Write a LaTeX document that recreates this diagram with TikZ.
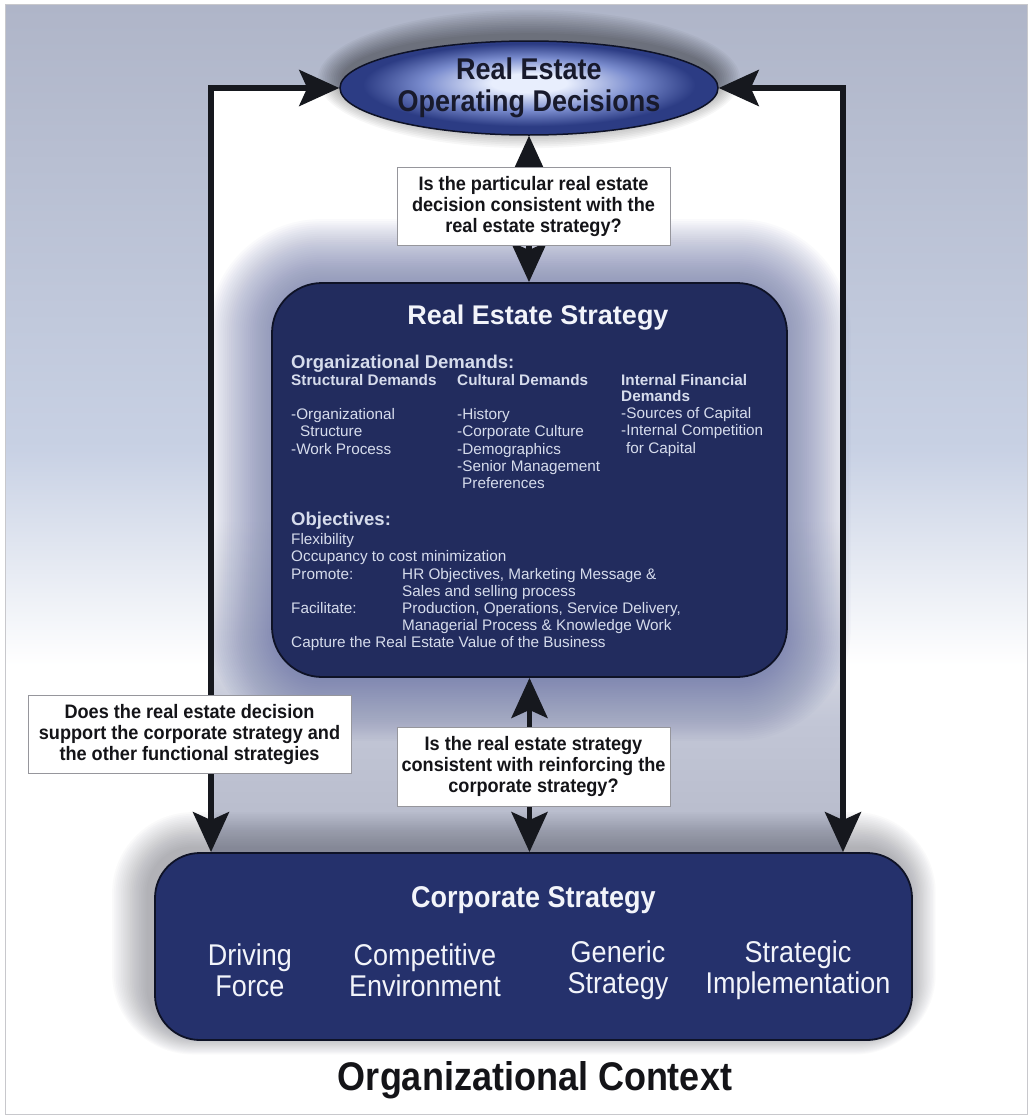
\documentclass[tikz,border=0pt]{standalone}
\usepackage{fontspec}
\setmainfont{Liberation Sans}
\newfontfamily\condfont{Liberation Sans}[FakeStretch=0.9]
\newfontfamily\qfont{Liberation Sans}[FakeStretch=0.93]
\usetikzlibrary{arrows.meta,calc,shapes.geometric,backgrounds}

\definecolor{bgtop}{RGB}{175,181,200}
\definecolor{bgmid}{RGB}{200,209,228}
\definecolor{intlow}{RGB}{194,198,214}
\definecolor{intbot}{RGB}{182,186,202}
\definecolor{linecol}{RGB}{22,24,30}
\definecolor{navy}{RGB}{34,44,94}
\definecolor{corpnavy}{RGB}{37,49,108}
\definecolor{boxedge}{RGB}{14,18,38}
\definecolor{odedark}{RGB}{44,60,132}
\definecolor{odemid}{RGB}{122,140,206}
\definecolor{odelight}{RGB}{232,238,253}
\definecolor{odetext}{RGB}{24,26,44}
\definecolor{bodytxt}{RGB}{214,220,236}
\definecolor{titletxt}{RGB}{242,244,250}
\definecolor{qtext}{RGB}{20,20,24}
\definecolor{qborder}{RGB}{150,150,156}
\definecolor{reglow}{RGB}{100,110,162}
\definecolor{corpshadow}{RGB}{70,72,84}
\definecolor{framegrey}{RGB}{200,200,204}

% light spot slightly above the centre of the ellipse
\pgfdeclareradialshading{odeshade}{\pgfpoint{0bp}{3bp}}{color(0bp)=(odelight); color(5bp)=(odelight); color(14bp)=(odemid); color(22bp)=(odedark); color(25bp)=(odedark); color(50bp)=(odedark)}

\tikzset{
  conn/.style={line width=5.5pt, draw=linecol, line join=miter,
    {Stealth[length=40pt,width=36pt,inset=8pt]}-{Stealth[length=40pt,width=36pt,inset=8pt]}},
  odebox/.style={ellipse, draw=boxedge, line width=1.5pt, shading=odeshade,
    minimum width=378pt, minimum height=94pt, inner sep=0pt, align=center,
    text=odetext, font={\condfont\bfseries\fontsize{30}{32}\selectfont}},
  navybox/.style={rectangle, draw=boxedge, line width=1.8pt, inner sep=0pt},
  qbox/.style={rectangle, draw=qborder, line width=0.8pt, fill=white, inner sep=0pt,
    align=center, text=qtext, font={\qfont\bfseries\fontsize{19.5}{21}\selectfont}},
  body/.style={inner sep=0pt, anchor=base west, text=bodytxt,
    font={\fontsize{15.3}{17}\selectfont}},
  bodyb/.style={body, font={\bfseries\fontsize{15.3}{17}\selectfont}},
  bodyh/.style={body, font={\bfseries\fontsize{18.5}{20}\selectfont}},
  corptxt/.style={inner sep=0pt, align=center, text=titletxt,
    font={\condfont\fontsize{30}{31}\selectfont}},
}

\begin{document}
\begin{tikzpicture}[x=1pt,y=-1pt]
\useasboundingbox (0,0) rectangle (1032,1119);

% frame corners
\coordinate (lx) at (211,88);
\coordinate (rx) at (843,88);

% main boxes
\node[odebox] (ode) at (529,88) {Real Estate\\Operating Decisions};
\node[navybox, fill=navy, minimum width=515pt, minimum height=394pt,
      rounded corners=50pt] (res) at (529.5,480) {};
\node[navybox, fill=corpnavy, minimum width=757pt, minimum height=187pt,
      rounded corners=45pt] (corp) at (533.5,946.5) {};

% real estate strategy contents
\node[inner sep=0pt, text=titletxt, font={\bfseries\fontsize{27}{30}\selectfont}]
  (rest) at (538,318) {Real Estate Strategy};
\node[bodyh] (od) at (291,368) {Organizational Demands:};
\node[bodyb] (sdh) at (291,385) {Structural Demands};
\node[bodyb] (cdh) at (457,385) {Cultural Demands};
\node[bodyb] (ifh1) at (621,385) {Internal Financial};
\node[bodyb] (ifh2) at (621,401) {Demands};
\node[body] (s1) at (291,419) {-Organizational};
\node[body] (s2) at (300,436) {Structure};
\node[body] (s3) at (291,454) {-Work Process};
\node[body] (c1) at (457,419) {-History};
\node[body] (c2) at (457,436) {-Corporate Culture};
\node[body] (c3) at (457,454) {-Demographics};
\node[body] (c4) at (457,471) {-Senior Management};
\node[body] (c5) at (462,488) {Preferences};
\node[body] (f1) at (621,418) {-Sources of Capital};
\node[body] (f2) at (621,435) {-Internal Competition};
\node[body] (f3) at (626,453) {for Capital};
\node[bodyh] (obj) at (291,525) {Objectives:};
\node[body] (o1) at (291,544) {Flexibility};
\node[body] (o2) at (291,561) {Occupancy to cost minimization};
\node[body] (o3) at (291,579) {Promote:};
\node[body] (o3b) at (402,579) {HR Objectives, Marketing Message \&};
\node[body] (o4) at (402,596) {Sales and selling process};
\node[body] (o5) at (291,613) {Facilitate:};
\node[body] (o5b) at (402,613) {Production, Operations, Service Delivery,};
\node[body] (o6) at (402,630) {Managerial Process \& Knowledge Work};
\node[body] (o7) at (291,647) {Capture the Real Estate Value of the Business};

% corporate strategy contents
\node[corptxt, font={\condfont\bfseries\fontsize{30}{31}\selectfont}]
  (cst) at (533.5,900) {Corporate Strategy};
\node[corptxt] (k1) at (250,970) {Driving\\Force};
\node[corptxt] (k2) at (425,970) {Competitive\\Environment};
\node[corptxt] (k3) at (618,970) {Generic\\Strategy};
\node[corptxt] (k4) at (798,970) {Strategic\\Implementation};

\node[inner sep=0pt, text=qtext, font={\condfont\bfseries\fontsize{40}{44}\selectfont}]
  (ctx) at (535,1080) {Organizational Context};

% connectors
\draw[conn] (ode.west) -| (corp.north -| lx);
\draw[conn] (ode.east) -| (corp.north -| rx);
\draw[conn] (ode.south) -- (ode.south |- res.north);
\draw[conn] (res.south) -- (res.south |- corp.north);

% question boxes
\node[qbox, minimum width=273pt, minimum height=78pt] (q1) at (533.5,206)
  {Is the particular real estate\\decision consistent with the\\real estate strategy?};
\node[qbox, minimum width=273pt, minimum height=79pt] (q2) at (533.5,766.5)
  {Is the real estate strategy\\consistent with reinforcing the\\corporate strategy?};
\node[qbox, minimum width=323pt, minimum height=78pt] (q3) at (189.5,734)
  {Does the real estate decision\\support the corporate strategy and\\the other functional strategies};

% backdrop, frame interior and soft shadows
\begin{scope}[on background layer]
  \fill[white] (0,0) rectangle (1032,1119);
  \shade[top color=bgtop, bottom color=bgmid] (5,4) rectangle (1027,452);
  \shade[top color=bgmid, bottom color=white] (5,450) rectangle (1027,665);
  \draw[framegrey, line width=1pt] (5,4) rectangle (1027,1114);
  \fill[white] (lx) rectangle (843,522);
  \shade[top color=white, bottom color=intlow] (211,520) rectangle (843,722);
  \shade[top color=intlow, bottom color=intbot] (211,720) rectangle (rx |- corp.north);
  % bluish glow round the strategy box
  \foreach \i in {1,...,30}{
    \pgfmathsetmacro\d{2.1*\i}
    \pgfmathsetmacro\r{50+\d}
    \fill[reglow, opacity=0.03, rounded corners=\r pt]
      ($(res.south west)+(-\d,\d)$) rectangle ($(res.north east)+(\d,-\d)$);
  }
  % grey shadow of the corporate box, falling up and to the left
  \foreach \i in {1,...,20}{
    \pgfmathsetmacro\d{1.8*\i}
    \pgfmathsetmacro\r{45+\d}
    \fill[corpshadow, opacity=0.022, rounded corners=\r pt]
      ($(corp.south west)+(-\d-6,0.6*\d-8)$) rectangle ($(corp.north east)+(0.8*\d-6,-\d-4)$);
  }
  % dark halo above the ellipse
  \foreach \i in {1,...,14}{
    \pgfmathsetmacro\d{1.8*\i}
    \fill[black, opacity=0.032]
      ($(ode.center)+(0,-9)$) ellipse ({186+\d} and {44+\d});
  }
\end{scope}
\end{tikzpicture}
\end{document}
